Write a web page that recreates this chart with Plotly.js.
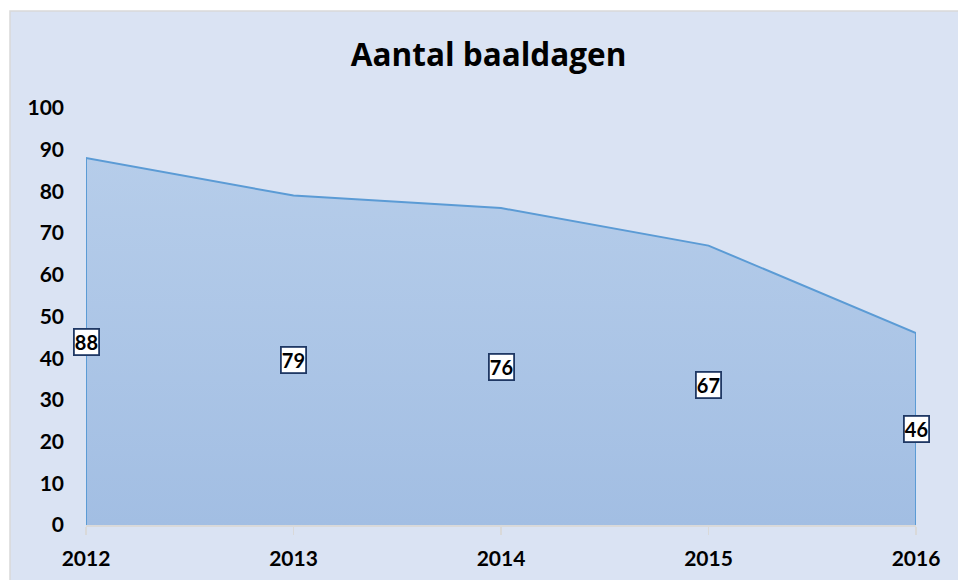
<!DOCTYPE html>
<html>
<head>
<meta charset="utf-8">
<script src="https://cdn.plot.ly/plotly-3.0.1.min.js"></script>
<style>html,body{margin:0;padding:0;background:#fff;}#chart{width:958px;height:580px;}</style>
</head>
<body>
<div id="chart"></div>
<script>
const years = [2012, 2013, 2014, 2015, 2016];
const values = [88, 79, 76, 67, 46];
const yTicks = [0, 10, 20, 30, 40, 50, 60, 70, 80, 90, 100];
const chartTitle = 'Aantal baaldagen';

// area outline: vertical edges at both ends, no line along the bottom
const xs = [years[0]].concat(years, [years[years.length - 1]]);
const ys = [0].concat(values, [0]);

const fontFam = 'Lato, "Open Sans", sans-serif';
const titleFam = '"Open Sans", Lato, sans-serif';

const trace = {
  x: xs, y: ys, type: 'scatter', mode: 'lines',
  line: {color: '#5b9bd5', width: 2},
  fill: 'tozeroy',
  fillcolor: '#abc5e6',
  fillgradient: {type: 'vertical', colorscale: [[0, '#a2bee3'], [1, '#b6cdea']]},
  hoverinfo: 'skip', showlegend: false
};

const annotations = years.map((yr, i) => ({
  x: yr, y: values[i] / 2, xref: 'x', yref: 'y',
  text: String(values[i]), showarrow: false,
  font: {family: fontFam, size: 20, color: '#000', weight: 'bold'},
  bgcolor: '#ffffff', bordercolor: '#1f3864', borderwidth: 1.8, borderpad: 0
}));

const L = 86, R = 42, T = 108, B = 55, W = 958, H = 580;
const pw = W - L - R, ph = H - T - B;
const shapes = [{
  type: 'rect', xref: 'paper', yref: 'paper', layer: 'below',
  x0: (10 - L) / pw, x1: (W + 5 - L) / pw,
  y0: -(H + 5 - (H - B)) / ph, y1: ((H - B) - 11) / ph,
  fillcolor: '#dae3f3', line: {color: '#d9d9d9', width: 1.5}
}];

const layout = {
  width: W, height: H,
  margin: {l: L, r: R, t: T, b: B, pad: 0},
  paper_bgcolor: '#ffffff', plot_bgcolor: 'rgba(0,0,0,0)',
  title: {text: '<b>' + chartTitle + '</b>', x: 0.51, xanchor: 'center', y: 1 - 55 / H, yanchor: 'middle',
          font: {family: titleFam, size: 31.5, color: '#000'}},
  xaxis: {
    range: [years[0], years[years.length - 1]], tickvals: years, ticktext: years.map(String),
    showgrid: false, zeroline: false, showline: true, linecolor: '#d9d9d9', linewidth: 1.5,
    ticks: 'outside', ticklen: 8, tickcolor: '#d9d9d9', tickwidth: 1.5,
    tickfont: {family: fontFam, size: 21, color: '#000', weight: 'bold'}, ticklabelstandoff: 6
  },
  yaxis: {
    range: [0, 100], tickvals: yTicks, showgrid: false, zeroline: false, showline: false,
    ticks: '', tickfont: {family: fontFam, size: 21, color: '#000', weight: 'bold'}, ticklabelstandoff: 21
  },
  shapes: shapes,
  annotations: annotations
};

Plotly.newPlot('chart', [trace], layout, {displayModeBar: false, staticPlot: true});
</script>
</body>
</html>
